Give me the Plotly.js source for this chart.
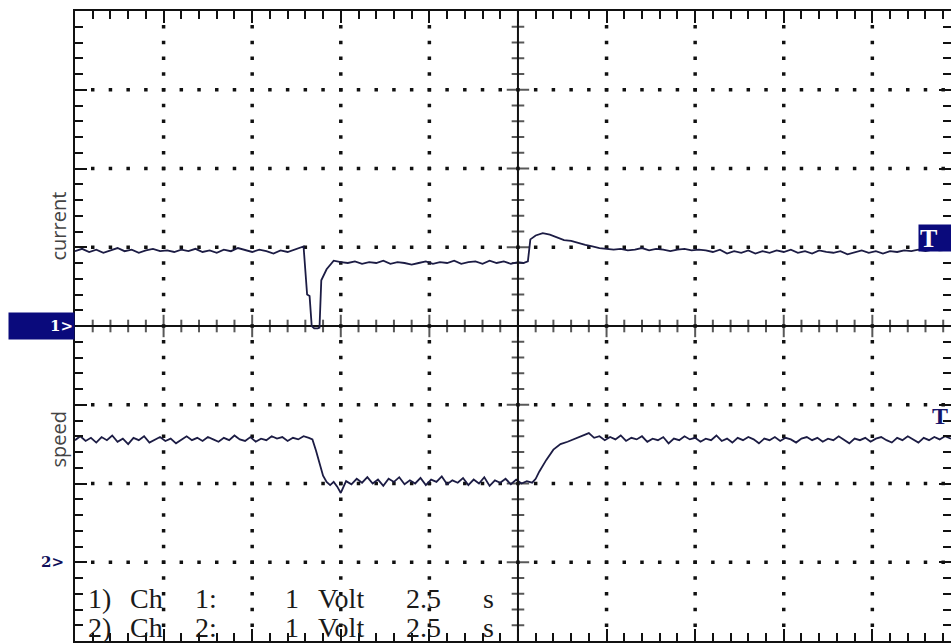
<!DOCTYPE html>
<html>
<head>
<meta charset="utf-8">
<script src="https://cdn.plot.ly/plotly-3.0.1.min.js"></script>
<style>html,body{margin:0;padding:0;background:#fff;}#chart{width:951px;height:643px;}</style>
</head>
<body>
<div id="chart"></div>
<script>
// Channel 1 (current), 1 V/div, 2.5 s/div
const ch1Time = [0.0,0.2,0.4,0.6,0.8,1.0,1.2,1.4,1.6,1.8,2.0,2.2,2.4,2.6,2.8,3.0,3.2,3.4,3.6,3.8,4.0,4.2,4.4,4.6,4.8,5.0,5.2,5.4,5.6,5.8,6.0,6.2,6.35,6.45,6.55,6.62,6.68,6.75,6.85,6.9,6.95,7.1,7.3,7.5,7.7,7.9,8.1,8.3,8.5,8.7,8.9,9.1,9.3,9.5,9.7,9.9,10.1,10.3,10.5,10.7,10.9,11.1,11.3,11.5,11.7,11.9,12.1,12.3,12.5,12.65,12.78,12.85,13.0,13.2,13.4,13.6,13.8,14.0,14.2,14.4,14.6,14.8,15.0,15.2,15.4,15.6,15.8,16.0,16.2,16.4,16.6,16.8,17.0,17.2,17.4,17.6,17.8,18.0,18.2,18.4,18.6,18.8,19.0,19.2,19.4,19.6,19.8,20.0,20.2,20.4,20.6,20.8,21.0,21.2,21.4,21.6,21.8,22.0,22.2,22.4,22.6,22.8,23.0,23.2,23.4,23.6,23.8,24.0,24.2,24.4,24.72];
const ch1Volts = [0.95,0.98,0.94,0.97,0.93,0.96,0.99,0.95,0.97,0.93,0.96,0.98,0.95,0.96,0.94,0.97,0.95,0.98,0.94,0.96,0.93,0.97,0.95,0.99,0.96,0.94,0.97,0.95,0.92,0.96,0.94,0.97,0.99,1.01,0.40,0.38,0.0,-0.03,-0.03,-0.02,0.58,0.72,0.83,0.81,0.80,0.82,0.79,0.81,0.80,0.83,0.79,0.81,0.80,0.78,0.80,0.82,0.79,0.81,0.80,0.83,0.79,0.81,0.82,0.79,0.83,0.80,0.82,0.79,0.81,0.80,0.82,1.10,1.15,1.18,1.16,1.12,1.09,1.08,1.05,1.03,1.01,0.99,0.98,0.97,0.98,0.96,0.97,0.99,0.96,0.98,0.97,0.95,0.97,0.98,0.96,0.97,0.96,0.94,0.97,0.92,0.95,0.93,0.96,0.92,0.95,0.93,0.96,0.94,0.97,0.93,0.95,0.92,0.96,0.94,0.93,0.95,0.91,0.94,0.96,0.93,0.95,0.92,0.95,0.94,0.96,0.95,0.97,0.95,0.97,0.96,0.97];

// Channel 2 (speed), 1 V/div
const ch2Time = [0.0,0.15,0.3,0.45,0.6,0.75,0.9,1.05,1.2,1.35,1.5,1.65,1.8,1.95,2.1,2.25,2.4,2.55,2.7,2.85,3.0,3.15,3.3,3.45,3.6,3.75,3.9,4.05,4.2,4.35,4.5,4.65,4.8,4.95,5.1,5.25,5.4,5.55,5.7,5.85,6.0,6.15,6.3,6.45,6.6,6.7,6.8,6.9,7.0,7.1,7.2,7.3,7.4,7.5,7.65,7.8,7.95,8.1,8.25,8.4,8.55,8.7,8.85,9.0,9.15,9.3,9.45,9.6,9.75,9.9,10.05,10.2,10.35,10.5,10.65,10.8,10.95,11.1,11.25,11.4,11.55,11.7,11.85,12.0,12.15,12.3,12.45,12.6,12.75,12.9,13.0,13.1,13.3,13.5,13.7,13.9,14.1,14.3,14.5,14.65,14.8,14.95,15.1,15.25,15.4,15.55,15.7,15.85,16.0,16.15,16.3,16.45,16.6,16.75,16.9,17.05,17.2,17.35,17.5,17.65,17.8,17.95,18.1,18.25,18.4,18.55,18.7,18.85,19.0,19.15,19.3,19.45,19.6,19.75,19.9,20.05,20.2,20.35,20.5,20.65,20.8,20.95,21.1,21.25,21.4,21.55,21.7,21.85,22.0,22.15,22.3,22.45,22.6,22.75,22.9,23.05,23.2,23.35,23.5,23.65,23.8,23.95,24.1,24.25,24.4,24.55,24.72];
const ch2Volts = [1.55,1.60,1.54,1.58,1.52,1.59,1.55,1.61,1.53,1.57,1.50,1.58,1.55,1.60,1.52,1.56,1.59,1.54,1.57,1.51,1.56,1.60,1.55,1.58,1.54,1.59,1.56,1.53,1.58,1.55,1.61,1.56,1.54,1.59,1.53,1.57,1.55,1.60,1.57,1.59,1.54,1.58,1.56,1.60,1.58,1.56,1.42,1.25,1.10,1.02,0.98,1.02,0.96,0.88,1.03,0.99,1.06,1.01,1.08,1.00,1.05,0.97,1.06,1.02,1.08,0.99,1.04,1.00,1.07,0.98,1.05,1.02,1.09,0.99,1.04,1.01,1.07,0.98,1.05,1.00,1.08,0.97,1.04,1.01,1.06,0.99,1.05,1.00,1.03,1.01,1.06,1.15,1.30,1.43,1.50,1.53,1.57,1.60,1.64,1.58,1.60,1.55,1.59,1.56,1.61,1.54,1.58,1.56,1.60,1.53,1.57,1.55,1.59,1.51,1.57,1.55,1.60,1.56,1.58,1.53,1.57,1.55,1.61,1.54,1.57,1.52,1.58,1.55,1.59,1.56,1.51,1.57,1.55,1.59,1.54,1.58,1.56,1.52,1.57,1.59,1.55,1.58,1.53,1.57,1.55,1.60,1.56,1.51,1.57,1.55,1.58,1.53,1.57,1.59,1.55,1.52,1.58,1.55,1.60,1.56,1.52,1.58,1.55,1.59,1.56,1.60,1.57];

const channelLabels = ["current", "speed"];
const settingsLines = [
  ["1)", "Ch", "1:", "1", "Volt", "2.5", "s"],
  ["2)", "Ch", "2:", "1", "Volt", "2.5", "s"]
];

// Screen geometry (oscilloscope: 10 x 8 divisions)
const secPerDiv = 2.5, divsX = 10, divsY = 8;
const xMax = 24.72;
const traceColor = '#1c1c44';
const ink = '#111';

// Graticule dots (decorative, generated)
const dotX = [], dotY = [];
for (let d = 1; d < divsX; d++) {
  if (d === 5) continue;
  for (let s = -19; s <= 19; s++) { dotX.push(d * secPerDiv); dotY.push(s * 0.2); }
}
for (let d = -3; d <= 3; d++) {
  if (d === 0) continue;
  for (let s = 1; s < 50; s++) { const t = s * 0.5; if (t <= xMax) { dotX.push(t); dotY.push(d); } }
}
// center-axis ticks
const hTickX = [], hTickY = [], hTickS = [];
for (let s = 1; s < 50; s++) { const t = s * 0.5; if (t > xMax) break; hTickX.push(t); hTickY.push(0); hTickS.push(s % 5 === 0 ? 16 : 9); }
const vTickX = [], vTickY = [], vTickS = [];
for (let s = -19; s <= 19; s++) { vTickX.push(12.5); vTickY.push(s * 0.2); vTickS.push(s % 5 === 0 ? 16 : 9); }

const traces = [
  {x: dotX, y: dotY, mode: 'markers', type: 'scatter', hoverinfo: 'skip',
   marker: {symbol: 'square', size: 3.5, color: ink}},
  {x: hTickX, y: hTickY, mode: 'markers', type: 'scatter', hoverinfo: 'skip',
   marker: {symbol: 'line-ns-open', size: hTickS, color: ink, line: {color: ink, width: 2}}},
  {x: vTickX, y: vTickY, mode: 'markers', type: 'scatter', hoverinfo: 'skip',
   marker: {symbol: 'line-ew-open', size: vTickS, color: ink, line: {color: ink, width: 2}}},
  {x: ch1Time, y: ch1Volts, mode: 'lines', type: 'scatter', name: channelLabels[0],
   line: {color: traceColor, width: 1.8}},
  {x: ch2Time, y: ch2Volts, mode: 'lines', type: 'scatter', name: channelLabels[1], yaxis: 'y2',
   line: {color: traceColor, width: 1.8}}
];

const W = 951, H = 643, mL = 75, mT = 11, mB = 2;
const plotW = W - mL, plotH = H - mT - mB;
const px2x = p => (p - mL) / plotW;
const px2y = p => (H - mB - p) / plotH;

const annotations = [
  {text: channelLabels[0], xref: 'paper', yref: 'paper', x: px2x(42), y: px2y(226), textangle: -90,
   showarrow: false, font: {family: 'Open Sans', size: 20, color: '#444'}},
  {text: channelLabels[1], xref: 'paper', yref: 'paper', x: px2x(42), y: px2y(470), textangle: -90,
   showarrow: false, font: {family: 'Open Sans', size: 20, color: '#444'}},
  {text: '<b>1&gt;</b>', xref: 'paper', yref: 'y', x: 0, y: 0, xanchor: 'right', yanchor: 'middle',
   showarrow: false, bgcolor: '#0a0a7c', width: 63, height: 24, borderpad: 1, align: 'right',
   font: {family: 'DejaVu Serif', size: 15, color: '#fff'}},
  {text: '<b>2&gt;</b>', xref: 'paper', yref: 'y2', x: -0.01, y: 0, xanchor: 'right', yanchor: 'middle',
   showarrow: false, font: {family: 'DejaVu Serif', size: 15, color: '#10105a'}},
  {text: '<b>T</b>', xref: 'paper', yref: 'paper', x: px2x(918), y: px2y(238), xanchor: 'left', yanchor: 'middle',
   showarrow: false, bgcolor: '#0a0a7c', width: 34, height: 24, borderpad: 1, align: 'left',
   font: {family: 'Liberation Serif', size: 26, color: '#fff'}},
  {text: '<b>T</b>', xref: 'paper', yref: 'paper', x: px2x(930), y: px2y(416), xanchor: 'left', yanchor: 'middle',
   showarrow: false, font: {family: 'Liberation Serif', size: 24, color: '#14146a'}}
];
const tokenX = [86, 128, 193, 283, 316, 404, 481];
const lineY = [598, 627];
settingsLines.forEach((toks, li) => {
  toks.forEach((tk, ti) => {
    annotations.push({text: tk, xref: 'paper', yref: 'paper', x: px2x(tokenX[ti]), y: px2y(lineY[li]),
      xanchor: 'left', yanchor: 'middle', showarrow: false,
      font: {family: 'Liberation Serif', size: 28, color: '#1a1a1a'}});
  });
});

const layout = {
  width: W, height: H,
  margin: {l: mL, r: 0, t: mT, b: mB, pad: 0},
  paper_bgcolor: '#fff', plot_bgcolor: '#fff',
  showlegend: false,
  xaxis: {range: [0, xMax], showgrid: false, zeroline: false, showticklabels: false,
    showline: true, linecolor: ink, linewidth: 2, mirror: 'ticks',
    ticks: 'inside', tick0: 0, dtick: secPerDiv, ticklen: 12, tickwidth: 2, tickcolor: ink,
    minor: {ticks: 'inside', dtick: 0.5, ticklen: 8, tickwidth: 2, tickcolor: ink, showgrid: false}},
  yaxis: {range: [-divsY / 2, divsY / 2], showgrid: false, zeroline: true, zerolinecolor: ink, zerolinewidth: 2,
    showticklabels: false, showline: true, linecolor: ink, linewidth: 2, mirror: 'ticks',
    ticks: 'inside', tick0: 0, dtick: 1, ticklen: 12, tickwidth: 2, tickcolor: ink,
    minor: {ticks: 'inside', dtick: 0.2, ticklen: 8, tickwidth: 2, tickcolor: ink, showgrid: false}},
  yaxis2: {range: [-1, 7], overlaying: 'y', visible: false},
  shapes: [
    {type: 'line', xref: 'x', yref: 'y', x0: 12.5, x1: 12.5, y0: -4, y1: 4, line: {color: ink, width: 2}}
  ],
  annotations: annotations
};

Plotly.newPlot('chart', traces, layout, {displayModeBar: false, staticPlot: true});
</script>
</body>
</html>
